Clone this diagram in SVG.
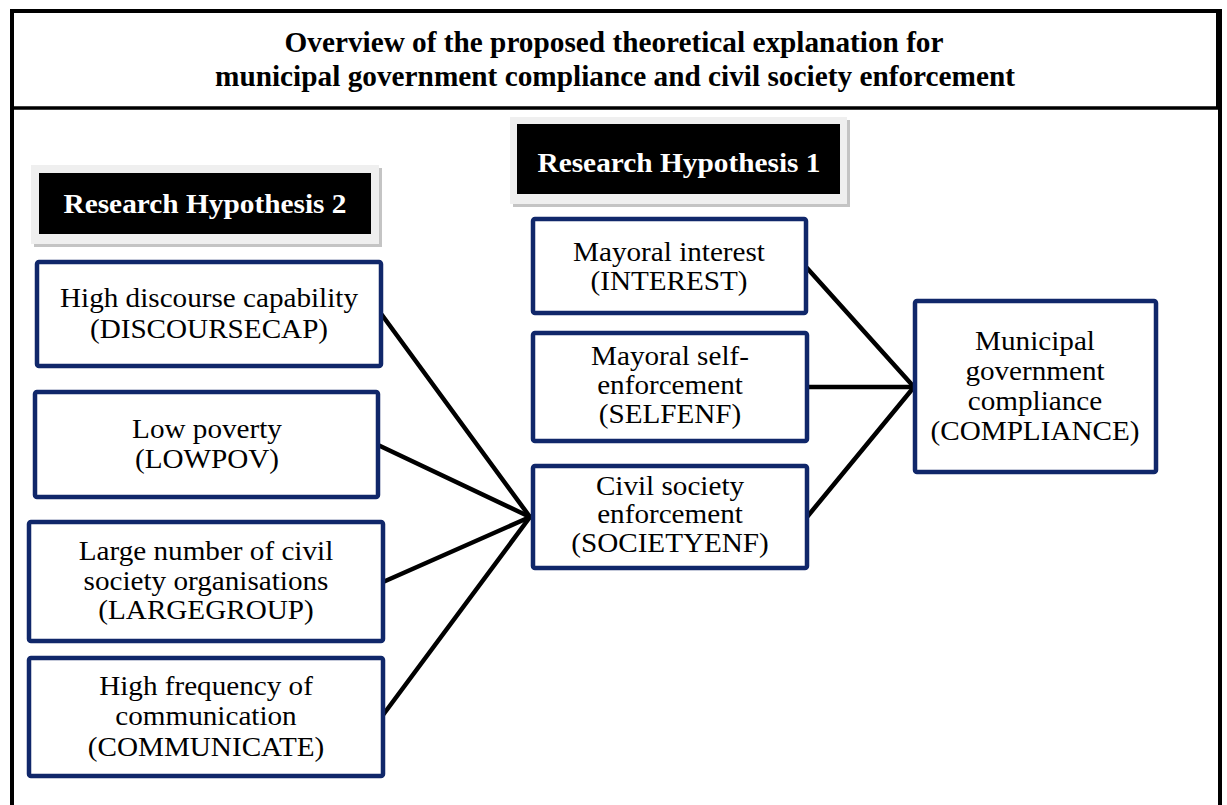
<svg xmlns="http://www.w3.org/2000/svg" width="1227" height="805" viewBox="0 0 1227 805">
<style>
.node rect{fill:#fff;stroke:#10276a;stroke-width:4.5}
.node text{font-family:"Liberation Serif","Times New Roman",serif;font-size:27px;fill:#000;text-anchor:middle}
.lbl text{font-family:"Liberation Serif","Times New Roman",serif;font-size:28px;font-weight:bold;fill:#fff;text-anchor:middle}
.title{font-family:"Liberation Serif","Times New Roman",serif;font-size:29px;font-weight:bold;fill:#000;text-anchor:middle}
.conn line{stroke:#000;stroke-width:4.5;stroke-linecap:round}
</style>
<rect x="0" y="0" width="1227" height="805" fill="#fff"/>
<g id="frame" fill="none" stroke="#000">
<path d="M12,805 V11 H1220 V805" stroke-width="4"/>
<line x1="12" y1="108" x2="1218" y2="108" stroke-width="3.5"/>
<line x1="1217" y1="11" x2="1217" y2="108" stroke-width="2"/>
</g>
<g id="title">
<text class="title" x="614" y="52" textLength="659" lengthAdjust="spacingAndGlyphs">Overview of the proposed theoretical explanation for</text>
<text class="title" x="615" y="86" textLength="800" lengthAdjust="spacingAndGlyphs">municipal government compliance and civil society enforcement</text>
</g>
<g id="rh2" class="lbl">
<rect x="34" y="168" width="348" height="79" fill="#c4c4c4"/>
<rect x="31" y="165" width="348" height="79" fill="#efefef"/>
<rect x="39" y="173" width="332" height="61" fill="#000"/>
<text x="205" y="213" textLength="283" lengthAdjust="spacingAndGlyphs">Research Hypothesis 2</text>
</g>
<g id="rh1" class="lbl">
<rect x="513" y="120" width="337" height="87" fill="#c4c4c4"/>
<rect x="510" y="117" width="337" height="87" fill="#efefef"/>
<rect x="517" y="124" width="323" height="70" fill="#000"/>
<text x="679" y="172" textLength="283" lengthAdjust="spacingAndGlyphs">Research Hypothesis 1</text>
</g>
<g id="connectors" class="conn">
<line x1="382" y1="315" x2="530" y2="517"/>
<line x1="378" y1="445" x2="530" y2="517"/>
<line x1="383" y1="582" x2="530" y2="517"/>
<line x1="383" y1="715" x2="530" y2="517"/>
<line x1="807" y1="268" x2="914" y2="387"/>
<line x1="808" y1="387" x2="914" y2="387"/>
<line x1="807" y1="517" x2="914" y2="387"/>
</g>
<g id="discoursecap" class="node">
<rect x="37" y="262" width="344" height="104" rx="2"/>
<g transform="translate(209,0) scale(1.08,1)">
<text x="0" y="307">High discourse capability</text>
<text x="0" y="338">(DISCOURSECAP)</text>
</g>
</g>
<g id="lowpov" class="node">
<rect x="35" y="392" width="343" height="105" rx="2"/>
<g transform="translate(207,0) scale(1.08,1)">
<text x="0" y="438">Low poverty</text>
<text x="0" y="468">(LOWPOV)</text>
</g>
</g>
<g id="largegroup" class="node">
<rect x="29" y="522" width="354" height="119" rx="2"/>
<g transform="translate(206,0) scale(1.08,1)">
<text x="0" y="560">Large number of civil</text>
<text x="0" y="590">society organisations</text>
<text x="0" y="619">(LARGEGROUP)</text>
</g>
</g>
<g id="communicate" class="node">
<rect x="29" y="658" width="354" height="118" rx="2"/>
<g transform="translate(206,0) scale(1.08,1)">
<text x="0" y="695">High frequency of</text>
<text x="0" y="725">communication</text>
<text x="0" y="756">(COMMUNICATE)</text>
</g>
</g>
<g id="interest" class="node">
<rect x="533" y="219" width="273" height="94" rx="2"/>
<g transform="translate(669,0) scale(1.08,1)">
<text x="0" y="261">Mayoral interest</text>
<text x="0" y="290">(INTEREST)</text>
</g>
</g>
<g id="selfenf" class="node">
<rect x="533" y="333" width="274" height="108" rx="2"/>
<g transform="translate(670,0) scale(1.08,1)">
<text x="0" y="365">Mayoral self-</text>
<text x="0" y="394">enforcement</text>
<text x="0" y="423">(SELFENF)</text>
</g>
</g>
<g id="societyenf" class="node">
<rect x="533" y="466" width="274" height="102" rx="2"/>
<g transform="translate(670,0) scale(1.08,1)">
<text x="0" y="495">Civil society</text>
<text x="0" y="523">enforcement</text>
<text x="0" y="552">(SOCIETYENF)</text>
</g>
</g>
<g id="compliance" class="node">
<rect x="915" y="301" width="241" height="171" rx="2"/>
<g transform="translate(1035,0) scale(1.08,1)">
<text x="0" y="350">Municipal</text>
<text x="0" y="380">government</text>
<text x="0" y="410">compliance</text>
<text x="0" y="440">(COMPLIANCE)</text>
</g>
</g>
</svg>
